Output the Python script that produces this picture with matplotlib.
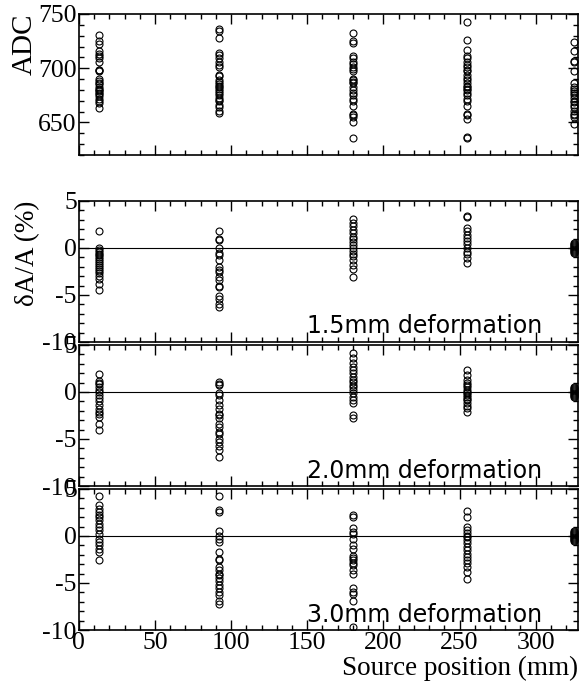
import numpy as np
import matplotlib.pyplot as plt
from matplotlib.ticker import MultipleLocator

# source positions (mm)
positions = [13, 92, 180, 255, 325.5]

# ADC values per source position
adc = [
    [731, 725, 722, 716, 713, 711, 709, 706, 698, 698, 697, 690, 688, 686, 685,
     683, 681, 680, 679, 677, 676, 674, 672, 670, 668, 663],
    [736, 734, 728, 714, 712, 709, 706, 703, 701, 694, 693, 689, 687, 685, 684,
     683, 681, 679, 677, 675, 673, 671, 670, 666, 664, 661, 659],
    [732, 725, 723, 711, 709, 706, 704, 701, 699, 697, 690, 689, 687, 686, 683,
     680, 677, 675, 672, 670, 665, 658, 657, 655, 650, 636],
    [743, 726, 717, 711, 709, 706, 703, 701, 698, 697, 694, 691, 689, 686, 684,
     683, 681, 680, 677, 675, 672, 670, 665, 658, 657, 653, 637, 636],
    [724, 716, 707, 706, 697, 686, 683, 681, 679, 677, 675, 673, 670, 669, 666,
     664, 661, 658, 657, 655, 649],
]

blob = [0.5, 0.4, 0.3, 0.2, 0.1, 0.0, -0.1, -0.2, -0.3, -0.4, -0.5]

# dA/A (%) for 1.5 mm deformation
dev15 = [
    [1.8, 0.0, -0.2, -0.4, -0.6, -0.8, -1.0, -1.2, -1.4, -1.6, -1.8, -2.0, -2.2,
     -2.5, -2.7, -3.0, -3.3, -3.8, -4.5],
    [1.8, 1.0, 0.8, 0.0, -0.5, -0.8, -1.3, -2.0, -2.3, -2.6, -3.1, -3.4, -4.0,
     -4.2, -5.1, -5.4, -6.0, -6.3],
    [3.1, 2.6, 2.3, 1.9, 1.6, 1.2, 0.9, 0.6, 0.3, 0.0, -0.3, -0.6, -0.9, -1.3,
     -1.8, -2.2, -3.1],
    [3.4, 3.3, 2.1, 1.8, 1.4, 1.1, 0.7, 0.4, 0.0, -0.4, -0.7, -1.1, -1.6],
    blob,
]

# dA/A (%) for 2.0 mm deformation
dev20 = [
    [1.9, 1.2, 1.0, 0.8, 0.5, 0.2, 0.0, -0.3, -0.6, -1.0, -1.4, -1.8, -2.1, -2.3,
     -2.7, -3.4, -4.0],
    [1.1, 0.9, 0.7, -0.1, -0.3, -0.9, -1.4, -1.8, -2.3, -2.5, -2.8, -3.4, -3.7,
     -4.3, -4.5, -5.0, -5.3, -5.7, -6.2, -6.9],
    [4.1, 3.6, 3.1, 2.7, 2.3, 2.0, 1.6, 1.3, 1.1, 0.7, 0.5, 0.2, -0.1, -0.5, -0.9,
     -1.2, -2.5, -2.8],
    [2.3, 1.8, 1.3, 1.0, 0.7, 0.5, 0.2, 0.0, -0.1, -0.3, -0.5, -0.7, -0.9, -1.2,
     -1.5, -1.7, -2.1],
    blob,
]

# dA/A (%) for 3.0 mm deformation
dev30 = [
    [4.2, 3.3, 2.9, 2.6, 2.2, 2.0, 1.7, 1.3, 1.0, 0.6, 0.25, -0.3, -0.6, -1.0,
     -1.4, -1.7, -2.6],
    [4.2, 2.8, 2.6, 0.5, 0.0, -0.3, -0.6, -1.7, -2.4, -2.6, -3.3, -3.6, -4.0,
     -4.2, -4.5, -4.8, -5.2, -5.5, -6.0, -6.3, -6.9, -7.2],
    [2.2, 2.0, 0.8, 0.4, 0.2, -0.3, -1.0, -1.4, -2.1, -2.3, -2.6, -2.9, -3.1,
     -3.6, -4.0, -5.5, -6.0, -6.2, -6.9, -9.7],
    [2.7, 2.0, 1.0, 0.6, 0.3, 0.0, -0.1, -0.4, -0.8, -1.2, -1.5, -1.9, -2.2,
     -2.6, -2.9, -3.3, -3.8, -4.6],
    blob,
]

labels = ["1.5mm deformation", "2.0mm deformation", "3.0mm deformation"]

plt.rcParams['font.family'] = 'Liberation Serif'
plt.rcParams['font.size'] = 19.5

fig = plt.figure(figsize=(5.8, 6.88), dpi=100)
left, width = 0.136, 0.861
ax1 = fig.add_axes([left, 0.7747, width, 0.2050])
ax2 = fig.add_axes([left, 0.5030, width, 0.2050])
ax3 = fig.add_axes([left, 0.2936, width, 0.2050])
ax4 = fig.add_axes([left, 0.0843, width, 0.2050])


def scatter_groups(ax, groups):
    for x, ys in zip(positions, groups):
        ax.plot([x] * len(ys), ys, 'o', mfc='none', mec='black',
                ms=5, mew=0.8, ls='none')


def style(ax):
    ax.set_xlim(0, 328)
    ax.xaxis.set_major_locator(MultipleLocator(50))
    ax.xaxis.set_minor_locator(MultipleLocator(10))
    ax.tick_params(which='both', direction='in', top=True, right=True,
                   labelsize=18.5, pad=1.5)
    ax.tick_params(which='major', length=7, width=1)
    ax.tick_params(which='minor', length=3.5, width=1)
    for s in ax.spines.values():
        s.set_linewidth(1.2)


scatter_groups(ax1, adc)
style(ax1)
ax1.set_ylim(620, 750)
ax1.yaxis.set_major_locator(MultipleLocator(50))
ax1.yaxis.set_minor_locator(MultipleLocator(10))
ax1.set_xticklabels([])
ax1.set_ylabel("ADC", loc='top', labelpad=0, fontsize=21)

for ax, groups, lab in zip([ax2, ax3, ax4], [dev15, dev20, dev30], labels):
    ax.axhline(0, color='black', lw=0.8)
    scatter_groups(ax, groups)
    style(ax)
    ax.set_ylim(-10, 5)
    ax.set_yticks([-10, -5, 0, 5])
    ax.set_yticklabels(['-10', '-5', '0', '5'])
    ax.yaxis.set_minor_locator(MultipleLocator(1))
    ax.text(150, -9.1, lab, family='DejaVu Sans', fontsize=17,
            va='baseline', ha='left')

ax2.set_xticklabels([])
ax3.set_xticklabels([])
ax2.set_ylabel("δA/A (%)", loc='top', labelpad=2)
ax4.set_xlabel("Source position (mm)", loc='right', labelpad=1)

fig.savefig("out.png", dpi=100)
